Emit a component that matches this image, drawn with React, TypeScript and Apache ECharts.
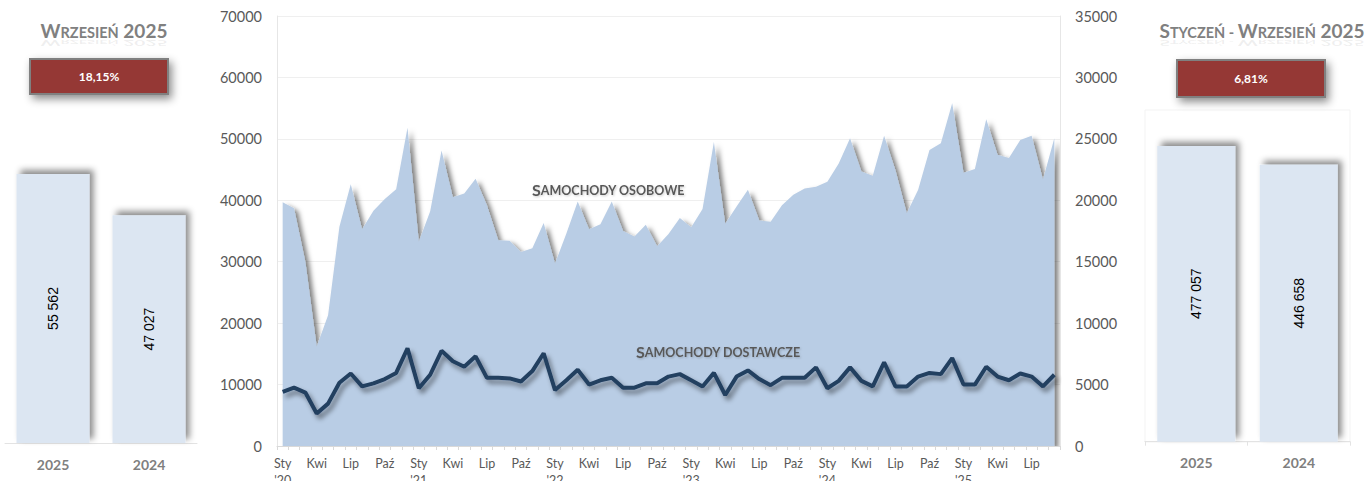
import React, { useEffect, useRef } from "react";
import * as echarts from "echarts";

const MONTH_NAMES = ["Sty", "Lut", "Mar", "Kwi", "Maj", "Cze", "Lip", "Sie", "Wrz", "Paź", "Lis", "Gru"];
const YEARS = ["20", "21", "22", "23", "24", "25"];
const LAST_YEAR_MONTHS = 9;

const categories: string[] = [];
YEARS.forEach((y, yi) => {
  const n = yi === YEARS.length - 1 ? LAST_YEAR_MONTHS : 12;
  for (let m = 0; m < n; m++) categories.push(MONTH_NAMES[m] + " '" + y);
});

// Samochody osobowe (left axis)
const passengerCars = [
  39700, 38700, 30000, 16200, 21300, 35700, 42600, 35300, 38300, 40200, 41800, 51800,
  33300, 38200, 48100, 40500, 41100, 43500, 39200, 33500, 33400, 31600, 32200, 36300,
  29700, 34600, 39800, 35300, 36100, 39800, 35000, 34100, 36000, 32500, 34500, 37100,
  35600, 38600, 49500, 36200, 39000, 41700, 36700, 36500, 39200, 40900, 41900, 42200,
  43000, 46000, 50100, 44700, 44000, 50500, 44900, 37900, 41700, 48200, 49300, 55800,
  44500, 45100, 53200, 47400, 46900, 49800, 50500, 43400, 50100,
];

// Samochody dostawcze (right axis)
const vans = [
  4400, 4750, 4350, 2650, 3450, 5150, 5900, 4850, 5100, 5450, 5950, 7950,
  4700, 5800, 7750, 6900, 6450, 7300, 5550, 5550, 5500, 5250, 6100, 7550,
  4550, 5350, 6200, 5000, 5350, 5550, 4750, 4750, 5100, 5100, 5650, 5850,
  5350, 4850, 5950, 4150, 5650, 6150, 5450, 4950, 5550, 5550, 5550, 6400,
  4700, 5300, 6400, 5300, 4850, 6800, 4850, 4850, 5650, 5950, 5850, 7150,
  5000, 5000, 6450, 5650, 5350, 5900, 5650, 4850, 5800,
];

const barYears = ["2025", "2024"];
const monthTotals = [55562, 47027];
const ytdTotals = [477057, 446658];
const monthChange = "18,15%";
const ytdChange = "6,81%";

const FONT = "Lato, 'Open Sans', sans-serif";
const fmtSpace = (v: number) => String(v).replace(/\B(?=(\d{3})+(?!\d))/g, " ");

const smallCaps = (first: string, rest: string, tail: string) =>
  "{a|" + first + "}{b|" + rest + "}" + (tail ? "{a|" + tail + "}" : "");

export default function App() {
  const ref = useRef<HTMLDivElement>(null);

  useEffect(() => {
    if (!ref.current) return;
    const chart = echarts.init(ref.current, null, { renderer: "svg" });

    const titleRich = (size: number, small: number, color: string) => ({
      a: { fontSize: size, fontWeight: "bold", fontFamily: FONT, fill: color, verticalAlign: "bottom", lineHeight: size + 2 },
      b: { fontSize: small, fontWeight: "bold", fontFamily: FONT, fill: color, verticalAlign: "bottom", lineHeight: size + 2 },
    });

    const titleGraphic = (text: string, cx: number, by: number) => [
      {
        type: "text",
        x: cx,
        y: by,
        style: { text, rich: titleRich(19, 14.5, "#808080"), align: "center", verticalAlign: "bottom" },
      },
      {
        type: "text",
        x: cx,
        y: by - 1,
        scaleY: -0.4,
        style: { text, rich: titleRich(19, 14.5, "rgba(128,128,128,0.13)"), align: "center", verticalAlign: "bottom" },
      },
    ];

    const redBox = (x: number, y: number, w: number, h: number, text: string) => [
      {
        type: "rect",
        shape: { x, y, width: w, height: h },
        style: {
          fill: "#953735",
          stroke: "#808080",
          lineWidth: 2,
          shadowBlur: 8,
          shadowOffsetX: 3,
          shadowOffsetY: 4,
          shadowColor: "rgba(0,0,0,0.45)",
        },
      },
      {
        type: "text",
        x: x + w / 2,
        y: y + h / 2,
        style: {
          text,
          fill: "#ffffff",
          font: "bold 12px " + FONT,
          align: "center",
          verticalAlign: "middle",
        },
      },
    ];

    const labelRich = {
      a: { fontSize: 16, fontWeight: "bold", fontFamily: FONT, fill: "#595959", verticalAlign: "bottom", lineHeight: 18 },
      b: { fontSize: 12.5, fontWeight: "bold", fontFamily: FONT, fill: "#595959", verticalAlign: "bottom", lineHeight: 18 },
    };

    const barShadow = {
      shadowBlur: 6,
      shadowOffsetX: 4,
      shadowOffsetY: -4,
      shadowColor: "rgba(0,0,0,0.45)",
    };

    const option: any = {
      animation: false,
      grid: [
        { left: 5, top: 152.5, width: 192, height: 290.5, outerBoundsMode: "none", containLabel: false },
        { left: 277, top: 16, width: 783, height: 430, outerBoundsMode: "none", containLabel: false },
        { left: 1145, top: 131.7, width: 205, height: 310, outerBoundsMode: "none", containLabel: false },
      ],
      xAxis: [
        {
          gridIndex: 0,
          type: "category",
          data: barYears,
          axisLine: { lineStyle: { color: "#e3e3e3", width: 1 } },
          axisTick: { show: false },
          axisLabel: { fontFamily: FONT, fontWeight: "bold", fontSize: 14, color: "#7f7f7f", margin: 14 },
        },
        {
          gridIndex: 1,
          type: "category",
          data: categories,
          boundaryGap: true,
          axisLine: { lineStyle: { color: "#d9d9d9", width: 1 } },
          axisTick: { show: true, interval: 0, length: 4, lineStyle: { color: "#d9d9d9" } },
          axisLabel: {
            interval: (i: number) => i % 3 === 0,
            fontFamily: FONT,
            fontSize: 12.5,
            color: "#595959",
            margin: 9,
            lineHeight: 17,
            formatter: (v: string) => {
              const [m, y] = v.split(" ");
              return m === "Sty" ? m + "\n" + y : m;
            },
          },
        },
        {
          gridIndex: 2,
          type: "category",
          data: barYears,
          axisLine: { lineStyle: { color: "#e3e3e3", width: 1 } },
          axisTick: { show: true, length: 4, lineStyle: { color: "#e3e3e3" } },
          axisLabel: { fontFamily: FONT, fontWeight: "bold", fontSize: 14, color: "#7f7f7f", margin: 14 },
        },
      ],
      yAxis: [
        { gridIndex: 0, type: "value", min: 0, max: 60000, show: false },
        {
          gridIndex: 1,
          type: "value",
          min: 0,
          max: 70000,
          interval: 10000,
          position: "left",
          axisLine: { show: true, lineStyle: { color: "#e6e6e6" } },
          axisTick: { show: false },
          splitLine: { lineStyle: { color: "#efefef" } },
          axisLabel: { fontFamily: FONT, fontSize: 14.5, color: "#595959", margin: 15, formatter: (v: number) => String(v) },
        },
        {
          gridIndex: 1,
          type: "value",
          min: 0,
          max: 35000,
          interval: 5000,
          position: "right",
          axisLine: { show: true, lineStyle: { color: "#e6e6e6" } },
          axisTick: { show: false },
          splitLine: { show: false },
          axisLabel: { fontFamily: FONT, fontSize: 14.5, color: "#595959", margin: 15, formatter: (v: number) => String(v) },
        },
        { gridIndex: 2, type: "value", min: 0, max: 500000, show: false },
      ],
      series: [
        {
          type: "bar",
          xAxisIndex: 0,
          yAxisIndex: 0,
          data: monthTotals,
          barWidth: 73,
          itemStyle: { color: "#dce6f2", ...barShadow },
          label: {
            show: true,
            position: "inside",
            rotate: 90,
            fontFamily: "'Liberation Sans', Arial, sans-serif",
            fontSize: 14,
            color: "#000000",
            formatter: (p: any) => fmtSpace(p.value),
          },
        },
        {
          type: "line",
          xAxisIndex: 1,
          yAxisIndex: 1,
          data: passengerCars,
          symbol: "none",
          lineStyle: { width: 0, opacity: 0 },
          areaStyle: {
            color: "#b9cde5",
            opacity: 1,
            shadowBlur: 5,
            shadowOffsetX: 4,
            shadowOffsetY: 3,
            shadowColor: "rgba(0,0,0,0.5)",
          },
          z: 2,
        },
        {
          type: "line",
          xAxisIndex: 1,
          yAxisIndex: 2,
          data: vans,
          symbol: "none",
          lineStyle: {
            width: 4,
            color: "#243f60",
            shadowBlur: 5,
            shadowOffsetX: 3,
            shadowOffsetY: 4,
            shadowColor: "rgba(0,0,0,0.45)",
          },
          z: 3,
        },
        {
          type: "bar",
          xAxisIndex: 2,
          yAxisIndex: 3,
          data: ytdTotals,
          barWidth: 78,
          itemStyle: { color: "#dce6f2", ...barShadow },
          label: {
            show: true,
            position: "inside",
            rotate: 90,
            fontFamily: "'Liberation Sans', Arial, sans-serif",
            fontSize: 14,
            color: "#000000",
            formatter: (p: any) => fmtSpace(p.value),
          },
        },
      ],
      graphic: [
        {
          type: "rect",
          shape: { x: 1145, y: 110, width: 205, height: 332 },
          style: { fill: "none", stroke: "#f3f3f3", lineWidth: 1 },
          z: -1,
        },
        ...titleGraphic(smallCaps("W", "RZESIEŃ", " 2025"), 104, 40),
        ...titleGraphic(smallCaps("S", "TYCZEŃ - ", "W") + "{b|RZESIEŃ}{a| 2025}", 1262, 40),
        ...redBox(30, 59, 138, 35, monthChange),
        ...redBox(1177, 60, 148, 37, ytdChange),
        {
          type: "text",
          x: 532,
          y: 197,
          z: 10,
          style: {
            text: smallCaps("S", "AMOCHODY OSOBOWE", ""),
            rich: labelRich,
            align: "left",
            verticalAlign: "bottom",
            textShadowColor: "rgba(0,0,0,0.2)",
            textShadowBlur: 2,
            textShadowOffsetX: 1,
            textShadowOffsetY: 1,
          },
        },
        {
          type: "text",
          x: 636,
          y: 359,
          z: 10,
          style: {
            text: smallCaps("S", "AMOCHODY DOSTAWCZE", ""),
            rich: labelRich,
            align: "left",
            verticalAlign: "bottom",
            textShadowColor: "rgba(0,0,0,0.2)",
            textShadowBlur: 2,
            textShadowOffsetX: 1,
            textShadowOffsetY: 1,
          },
        },
      ],
    };

    chart.setOption(option);
    return () => chart.dispose();
  }, []);

  return (
    <div
      ref={ref}
      style={{ position: "absolute", left: 0, top: 0, width: 1366, height: 481, background: "#ffffff" }}
    />
  );
}
